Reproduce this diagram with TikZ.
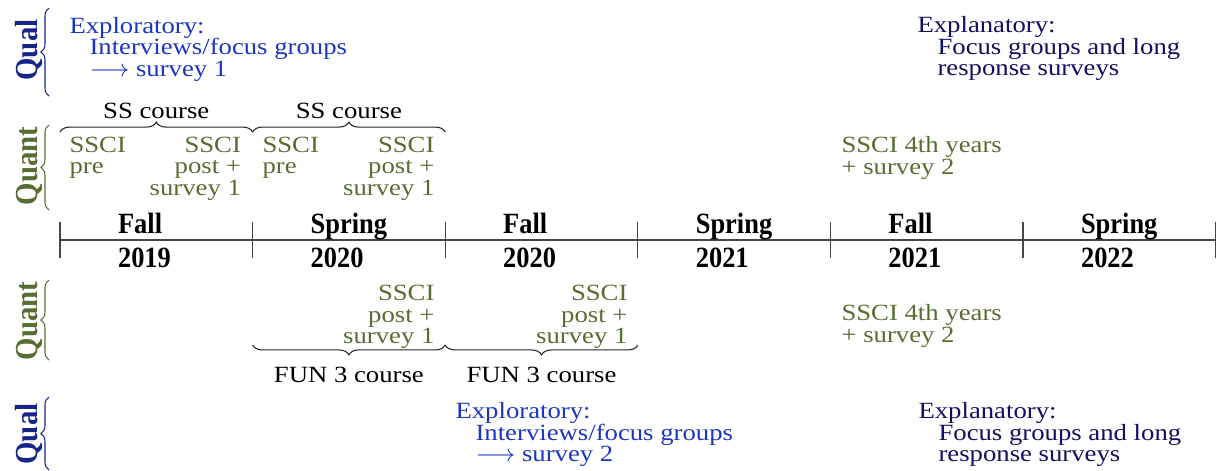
\documentclass[tikz,border=0pt]{standalone}
\usepackage{fontspec}
\setmainfont{Liberation Serif}[FakeStretch=1.15]
\newfontfamily\semfont{Liberation Serif}[FakeStretch=0.9]
\usetikzlibrary{decorations.pathreplacing}
\definecolor{qualblue}{RGB}{28,54,192}
\definecolor{explnavy}{RGB}{16,16,96}
\definecolor{qualdark}{RGB}{22,36,140}
\definecolor{quantgreen}{RGB}{86,110,50}
\definecolor{axisgray}{RGB}{70,70,70}
\tikzset
{
    bodytext/.style = {inner sep=0pt, align=left, font=\fontsize{8.7}{8.05}\selectfont},
    explor/.style   = {bodytext, anchor=north west, text=qualblue},
    explan/.style   = {bodytext, anchor=north west, text=explnavy},
    quantL/.style   = {bodytext, anchor=north west, text=quantgreen},
    quantR/.style   = {bodytext, anchor=north east, align=right, text=quantgreen},
    course/.style   = {inner sep=0pt, anchor=base, font=\fontsize{8.7}{8.05}\selectfont},
    season/.style   = {inner sep=0pt, anchor=base west, font=\semfont\bfseries\fontsize{11}{12}\selectfont},
    side/.style     = {inner sep=0pt, rotate=90, font=\semfont\bfseries\fontsize{12}{12}\selectfont},
    axisline/.style = {draw=axisgray, line width=0.45pt},
    hbrace/.style   = {decorate, decoration={brace, amplitude=3.7pt}, draw=black!85, line width=0.4pt},
    vbrace/.style   = {decorate, decoration={brace, amplitude=3pt}, draw=#1, line width=0.4pt}
}

\begin{document}
\begin{tikzpicture}[x=0.3745pt, y=-0.3745pt]
	\useasboundingbox (0,0) rectangle (1216,470);
	\foreach \i in {0,...,6}
	{
		\coordinate (t\i) at ({60+192.6*\i},240);
		\coordinate (u\i) at ({60+192.6*\i},132);
		\coordinate (d\i) at ({60+192.6*\i},345);
	}
	\draw [axisline] (t0) -- (t6);
	\foreach \i in {0,...,6}
		\draw [axisline] (t\i) ++(0,-18) -- ++(0,36);
	\foreach \sem/\yr [count=\i from 0] in {Fall/2019, Spring/2020, Fall/2020, Spring/2021, Fall/2021, Spring/2022}
	{
		\node (sem\i) [season] at ({117.5+192.6*\i},233) {\sem};
		\node (yr\i) [season] at ({117.5+192.6*\i},267) {\yr};
	}

	\node (qualT) [side, text=qualdark] at (29,50) {Qual};
	\node (quantT) [side, text=quantgreen] at (29,166) {Quant};
	\node (quantB) [side, text=quantgreen] at (29,321) {Quant};
	\node (qualB) [side, text=qualdark] at (29,434) {Qual};
	\coordinate (qt1) at (49,96);  \coordinate (qt2) at (49,8);
	\coordinate (nt1) at (49,210); \coordinate (nt2) at (49,125);
	\coordinate (nb1) at (49,360); \coordinate (nb2) at (49,280);
	\coordinate (qb1) at (49,470); \coordinate (qb2) at (49,397);
	\draw [vbrace=qualdark] (qt1) -- (qt2);
	\draw [vbrace=quantgreen] (nt1) -- (nt2);
	\draw [vbrace=quantgreen] (nb1) -- (nb2);
	\draw [vbrace=qualdark] (qb1) -- (qb2);

	\draw [hbrace] (u0) -- node (ss1) [course, yshift=5.2pt] {SS course} (u1);
	\draw [hbrace] (u1) -- node (ss2) [course, yshift=5.2pt] {SS course} (u2);
	\draw [hbrace] (d2) -- node (fun1) [course, yshift=-14.2pt] {FUN 3 course} (d1);
	\draw [hbrace] (d3) -- node (fun2) [course, yshift=-14.2pt] {FUN 3 course} (d2);

	\node (exA) [explor] at (69,16.6) {Exploratory:\\\hspace*{7.5pt}Interviews/focus groups\\\hspace*{7.5pt}$\longrightarrow$ survey 1};
	\node (exB) [explan] at (917,16.2) {Explanatory:\\\hspace*{7.5pt}Focus groups and long\\\hspace*{7.5pt}response surveys};
	\node (preA) [quantL] at (69,136.3) {SSCI\\pre};
	\node (postA) [quantR] at (241.5,136.3) {SSCI\\post +\\survey 1};
	\node (preB) [quantL] at (262,136.3) {SSCI\\pre};
	\node (postB) [quantR] at (435,136.3) {SSCI\\post +\\survey 1};
	\node (yrsA) [quantL] at (841,136) {SSCI 4th years\\+ survey 2};

	\node (postC) [quantR] at (435,284.8) {SSCI\\post +\\survey 1};
	\node (postD) [quantR] at (628,284.8) {SSCI\\post +\\survey 1};
	\node (yrsB) [quantL] at (841,304) {SSCI 4th years\\+ survey 2};
	\node (exC) [explor] at (455,402) {Exploratory:\\\hspace*{7.5pt}Interviews/focus groups\\\hspace*{7.5pt}$\longrightarrow$ survey 2};
	\node (exD) [explan] at (918,402) {Explanatory:\\\hspace*{7.5pt}Focus groups and long\\\hspace*{7.5pt}response surveys};
\end{tikzpicture}
\end{document}
